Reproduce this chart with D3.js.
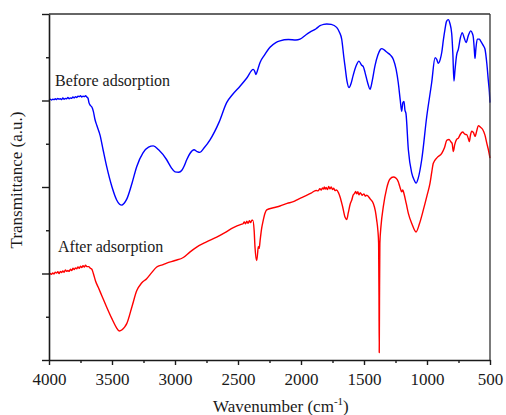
<!DOCTYPE html>
<html>
<head>
<meta charset="utf-8">
<script src="https://cdn.jsdelivr.net/npm/d3@7"></script>
<style>
  html, body { margin: 0; padding: 0; background: #fff; }
  svg { display: block; }
  text { font-family: "Liberation Serif", "Times New Roman", serif; fill: #1a1a1a; }
</style>
</head>
<body>
<svg id="chart" width="506" height="415"></svg>
<script>
// FTIR spectra: wavenumber (cm-1) and offset transmittance (a.u.)
const beforeWavenumber = [
  4000, 3990, 3980, 3970, 3960, 3950, 3940, 3930, 3920, 3910, 3900, 3890, 3880, 3870, 3860, 3850, 3840, 3830, 3820, 3810,
  3800, 3790, 3780, 3770, 3760, 3750, 3740, 3730, 3720, 3710, 3700, 3690, 3683, 3670, 3660, 3648, 3635, 3620, 3595, 3570,
  3542, 3500, 3463, 3440, 3423, 3405, 3383, 3340, 3304, 3254, 3210, 3172, 3130, 3066, 3030, 3000, 2970, 2947, 2925, 2907,
  2880, 2849, 2825, 2802, 2770, 2722, 2650, 2590, 2540, 2484, 2430, 2379, 2368, 2357, 2345, 2325, 2290, 2246, 2200, 2167,
  2100, 2040, 2008, 1960, 1929, 1880, 1849, 1820, 1796, 1760, 1717, 1695, 1677, 1660, 1651, 1635, 1619, 1600, 1587, 1560,
  1540, 1520, 1505, 1492, 1470, 1452, 1435, 1413, 1390, 1370, 1359, 1340, 1320, 1290, 1267, 1245, 1228, 1212, 1201, 1192,
  1183, 1175, 1167, 1148, 1121, 1100, 1087, 1070, 1042, 1002, 963, 936, 923, 910, 895, 883, 870, 857, 845, 831,
  818, 804, 795, 786, 778, 765, 751, 735, 720, 705, 690, 672, 653, 640, 632, 625, 619, 612, 601, 585,
  575, 555, 540, 525, 513, 505, 500
];
const beforeTransmittance = [
  6.02, 6.03, 6.01, 6.03, 6.02, 6.04, 6.02, 6.05, 6.03, 6.04, 6.02, 6.06, 6.03, 6.05, 6.04, 6.07, 6.04, 6.06, 6.05, 6.08,
  6.06, 6.09, 6.07, 6.10, 6.09, 6.11, 6.08, 6.10, 6.09, 6.11, 6.08, 6.05, 5.95, 5.88, 5.85, 5.75, 5.56, 5.42, 5.20, 4.85,
  4.47, 4.00, 3.70, 3.60, 3.58, 3.62, 3.72, 4.10, 4.47, 4.79, 4.92, 4.95, 4.86, 4.63, 4.45, 4.35, 4.34, 4.38, 4.50, 4.63,
  4.78, 4.86, 4.82, 4.80, 4.90, 5.09, 5.50, 5.95, 6.15, 6.33, 6.52, 6.72, 6.68, 6.60, 6.70, 6.88, 7.05, 7.23, 7.34, 7.38,
  7.41, 7.40, 7.42, 7.52, 7.58, 7.66, 7.73, 7.76, 7.77, 7.76, 7.69, 7.58, 7.42, 7.00, 6.80, 6.45, 6.30, 6.42, 6.57, 6.82,
  6.91, 6.82, 6.78, 6.65, 6.40, 6.26, 6.45, 6.80, 7.05, 7.18, 7.20, 7.17, 7.12, 7.05, 6.95, 6.72, 6.41, 6.00, 5.75, 5.95,
  5.98, 5.78, 5.70, 4.86, 4.32, 4.15, 4.09, 4.20, 4.63, 5.63, 6.41, 6.99, 6.95, 6.86, 6.95, 7.11, 7.40, 7.65, 7.83, 7.87,
  7.78, 7.55, 7.10, 6.45, 6.70, 7.05, 7.19, 7.45, 7.57, 7.45, 7.34, 7.50, 7.61, 7.55, 7.45, 7.20, 6.97, 7.20, 7.42, 7.42,
  7.38, 7.28, 7.19, 6.85, 6.45, 6.20, 5.95
];

const afterWavenumber = [
  4000, 3990, 3980, 3970, 3960, 3950, 3940, 3930, 3920, 3910, 3900, 3890, 3880, 3870, 3860, 3850, 3840, 3830, 3820, 3810,
  3800, 3790, 3780, 3770, 3760, 3750, 3740, 3730, 3720, 3710, 3700, 3685, 3672, 3660, 3648, 3630, 3609, 3580, 3542, 3500,
  3465, 3442, 3420, 3400, 3383, 3340, 3304, 3265, 3225, 3185, 3145, 3100, 3066, 3000, 2934, 2880, 2828, 2750, 2669, 2600,
  2537, 2470, 2460, 2450, 2440, 2430, 2420, 2410, 2400, 2390, 2383, 2372, 2365, 2352, 2345, 2339, 2332, 2325, 2312, 2302,
  2285, 2272, 2220, 2167, 2110, 2061, 2020, 1982, 1920, 1880, 1865, 1850, 1840, 1830, 1822, 1815, 1808, 1800, 1790, 1780,
  1770, 1760, 1750, 1740, 1730, 1717, 1700, 1690, 1670, 1650, 1637, 1625, 1610, 1597, 1585, 1575, 1566, 1558, 1549, 1540,
  1530, 1515, 1500, 1490, 1478, 1450, 1426, 1410, 1399, 1390, 1384, 1381, 1379, 1377, 1374, 1365, 1347, 1320, 1295, 1267,
  1245, 1228, 1215, 1201, 1192, 1183, 1165, 1148, 1120, 1087, 1060, 1029, 1000, 976, 962, 950, 920, 883, 860, 843,
  825, 812, 800, 791, 780, 765, 751, 735, 717, 700, 685, 672, 664, 655, 645, 630, 619, 605, 593, 575,
  558, 540, 526, 512, 500
];
const afterTransmittance = [
  1.98, 2.00, 1.98, 2.01, 1.99, 2.03, 2.01, 2.04, 2.00, 2.05, 2.02, 2.06, 2.03, 2.08, 2.05, 2.07, 2.05, 2.10, 2.07, 2.12,
  2.09, 2.13, 2.11, 2.15, 2.12, 2.17, 2.14, 2.18, 2.15, 2.19, 2.16, 2.16, 2.12, 2.10, 2.00, 1.82, 1.68, 1.48, 1.22, 0.95,
  0.75, 0.67, 0.70, 0.76, 0.84, 1.25, 1.60, 1.78, 1.88, 2.02, 2.15, 2.20, 2.24, 2.30, 2.37, 2.50, 2.61, 2.73, 2.84, 2.95,
  3.06, 3.14, 3.15, 3.19, 3.15, 3.21, 3.16, 3.22, 3.18, 3.23, 3.23, 3.00, 2.61, 2.30, 2.45, 2.62, 2.58, 2.75, 3.05, 3.20,
  3.40, 3.47, 3.52, 3.56, 3.62, 3.66, 3.72, 3.77, 3.86, 3.92, 3.91, 3.96, 3.93, 3.98, 3.95, 4.00, 3.95, 3.99, 3.94, 4.01,
  3.96, 4.00, 3.94, 3.97, 3.92, 3.93, 3.85, 3.77, 3.55, 3.30, 3.25, 3.40, 3.60, 3.70, 3.82, 3.85, 3.90, 3.84, 3.89, 3.82,
  3.87, 3.81, 3.84, 3.79, 3.81, 3.72, 3.62, 3.45, 3.23, 3.00, 2.70, 1.50, 0.17, 1.40, 2.70, 3.10, 3.54, 3.97, 4.18, 4.23,
  4.20, 4.12, 4.00, 3.89, 3.93, 3.85, 3.62, 3.39, 3.15, 2.96, 3.15, 3.47, 3.80, 4.09, 4.35, 4.55, 4.68, 4.78, 4.92, 5.08,
  5.10, 5.05, 5.00, 4.82, 4.98, 5.10, 5.13, 5.22, 5.27, 5.22, 5.21, 5.12, 5.05, 5.20, 5.29, 5.25, 5.17, 5.30, 5.42, 5.38,
  5.33, 5.20, 5.02, 4.85, 4.67
];

const xMajorTicks = [4000, 3500, 3000, 2500, 2000, 1500, 1000, 500];
const xMinorTicks = [3750, 3250, 2750, 2250, 1750, 1250, 750];
const yMajorTicks = [0, 2, 4, 6, 8];
const yMinorTicks = [1, 3, 5, 7];

const seriesLabels = ["Before adsorption", "After adsorption"];
const xTitle = "Wavenumber (cm";
const xTitleSup = "-1";
const yTitle = "Transmittance (a.u.)";

const svg = d3.select("#chart");
const plotLeft = 49, plotRight = 490, plotTop = 14, plotBottom = 360;

const x = d3.scaleLinear().domain([4000, 500]).range([plotLeft, plotRight]);
const y = d3.scaleLinear().domain([0, 8]).range([plotBottom, plotTop]);

const axisColor = "#1a1a1a";

// spectra
const line = d3.line()
  .x(d => x(d[0]))
  .y(d => y(d[1]))
  .curve(d3.curveMonotoneX);

const beforeData = beforeWavenumber.map((w, i) => [w, beforeTransmittance[i]]);
const afterData = afterWavenumber.map((w, i) => [w, afterTransmittance[i]]);

svg.append("path")
  .datum(beforeData)
  .attr("d", line)
  .attr("fill", "none")
  .attr("stroke", "#0000ff")
  .attr("stroke-width", 1.4)
  .attr("stroke-linejoin", "round");

svg.append("path")
  .datum(afterData)
  .attr("d", line)
  .attr("fill", "none")
  .attr("stroke", "#ff0000")
  .attr("stroke-width", 1.4)
  .attr("stroke-linejoin", "round");

// frame: top and right edges
svg.append("line")
  .attr("x1", plotLeft).attr("x2", plotRight).attr("y1", plotTop).attr("y2", plotTop)
  .attr("stroke", "#333").attr("stroke-width", 1.3);
svg.append("line")
  .attr("x1", plotRight).attr("x2", plotRight).attr("y1", plotTop).attr("y2", plotBottom)
  .attr("stroke", "#333").attr("stroke-width", 1.3);

// bottom axis: labelled major ticks plus short minor ticks
const xAxisMajor = d3.axisBottom(x)
  .tickValues(xMajorTicks)
  .tickFormat(d3.format("d"))
  .tickSizeInner(5)
  .tickSizeOuter(0)
  .tickPadding(8);
const gx = svg.append("g")
  .attr("transform", `translate(0,${plotBottom})`)
  .call(xAxisMajor);
gx.select(".domain").attr("stroke", axisColor).attr("stroke-width", 1.6);
gx.selectAll(".tick line").attr("stroke", axisColor).attr("stroke-width", 1.4);
gx.selectAll(".tick text")
  .attr("font-family", "Liberation Serif, Times New Roman, serif")
  .attr("font-size", 17)
  .attr("fill", axisColor);

const gxMinor = svg.append("g")
  .attr("transform", `translate(0,${plotBottom})`)
  .call(d3.axisBottom(x).tickValues(xMinorTicks).tickFormat("").tickSizeInner(3).tickSizeOuter(0));
gxMinor.select(".domain").remove();
gxMinor.selectAll(".tick line").attr("stroke", axisColor).attr("stroke-width", 1.4);

// left axis: unlabelled ticks
const gy = svg.append("g")
  .attr("transform", `translate(${plotLeft},0)`)
  .call(d3.axisLeft(y).tickValues(yMajorTicks).tickFormat("").tickSizeInner(7).tickSizeOuter(0));
gy.select(".domain").attr("stroke", axisColor).attr("stroke-width", 1.6);
gy.selectAll(".tick line").attr("stroke", axisColor).attr("stroke-width", 1.4);

const gyMinor = svg.append("g")
  .attr("transform", `translate(${plotLeft},0)`)
  .call(d3.axisLeft(y).tickValues(yMinorTicks).tickFormat("").tickSizeInner(3).tickSizeOuter(0));
gyMinor.select(".domain").remove();
gyMinor.selectAll(".tick line").attr("stroke", axisColor).attr("stroke-width", 1.4);

// series labels
svg.append("text")
  .attr("x", 55).attr("y", 86)
  .attr("font-size", 16)
  .text(seriesLabels[0]);
svg.append("text")
  .attr("x", 58).attr("y", 252)
  .attr("font-size", 16)
  .text(seriesLabels[1]);

// axis titles
const xt = svg.append("text")
  .attr("x", 213).attr("y", 412)
  .attr("font-size", 17);
xt.append("tspan").text(xTitle);
xt.append("tspan").attr("font-size", 11).attr("dy", -7).text(xTitleSup);
xt.append("tspan").attr("dy", 7).text(")");

svg.append("text")
  .attr("transform", `translate(22,${(plotTop + plotBottom) / 2 - 7}) rotate(-90)`)
  .attr("text-anchor", "middle")
  .attr("font-size", 17)
  .text(yTitle);
</script>
</body>
</html>
